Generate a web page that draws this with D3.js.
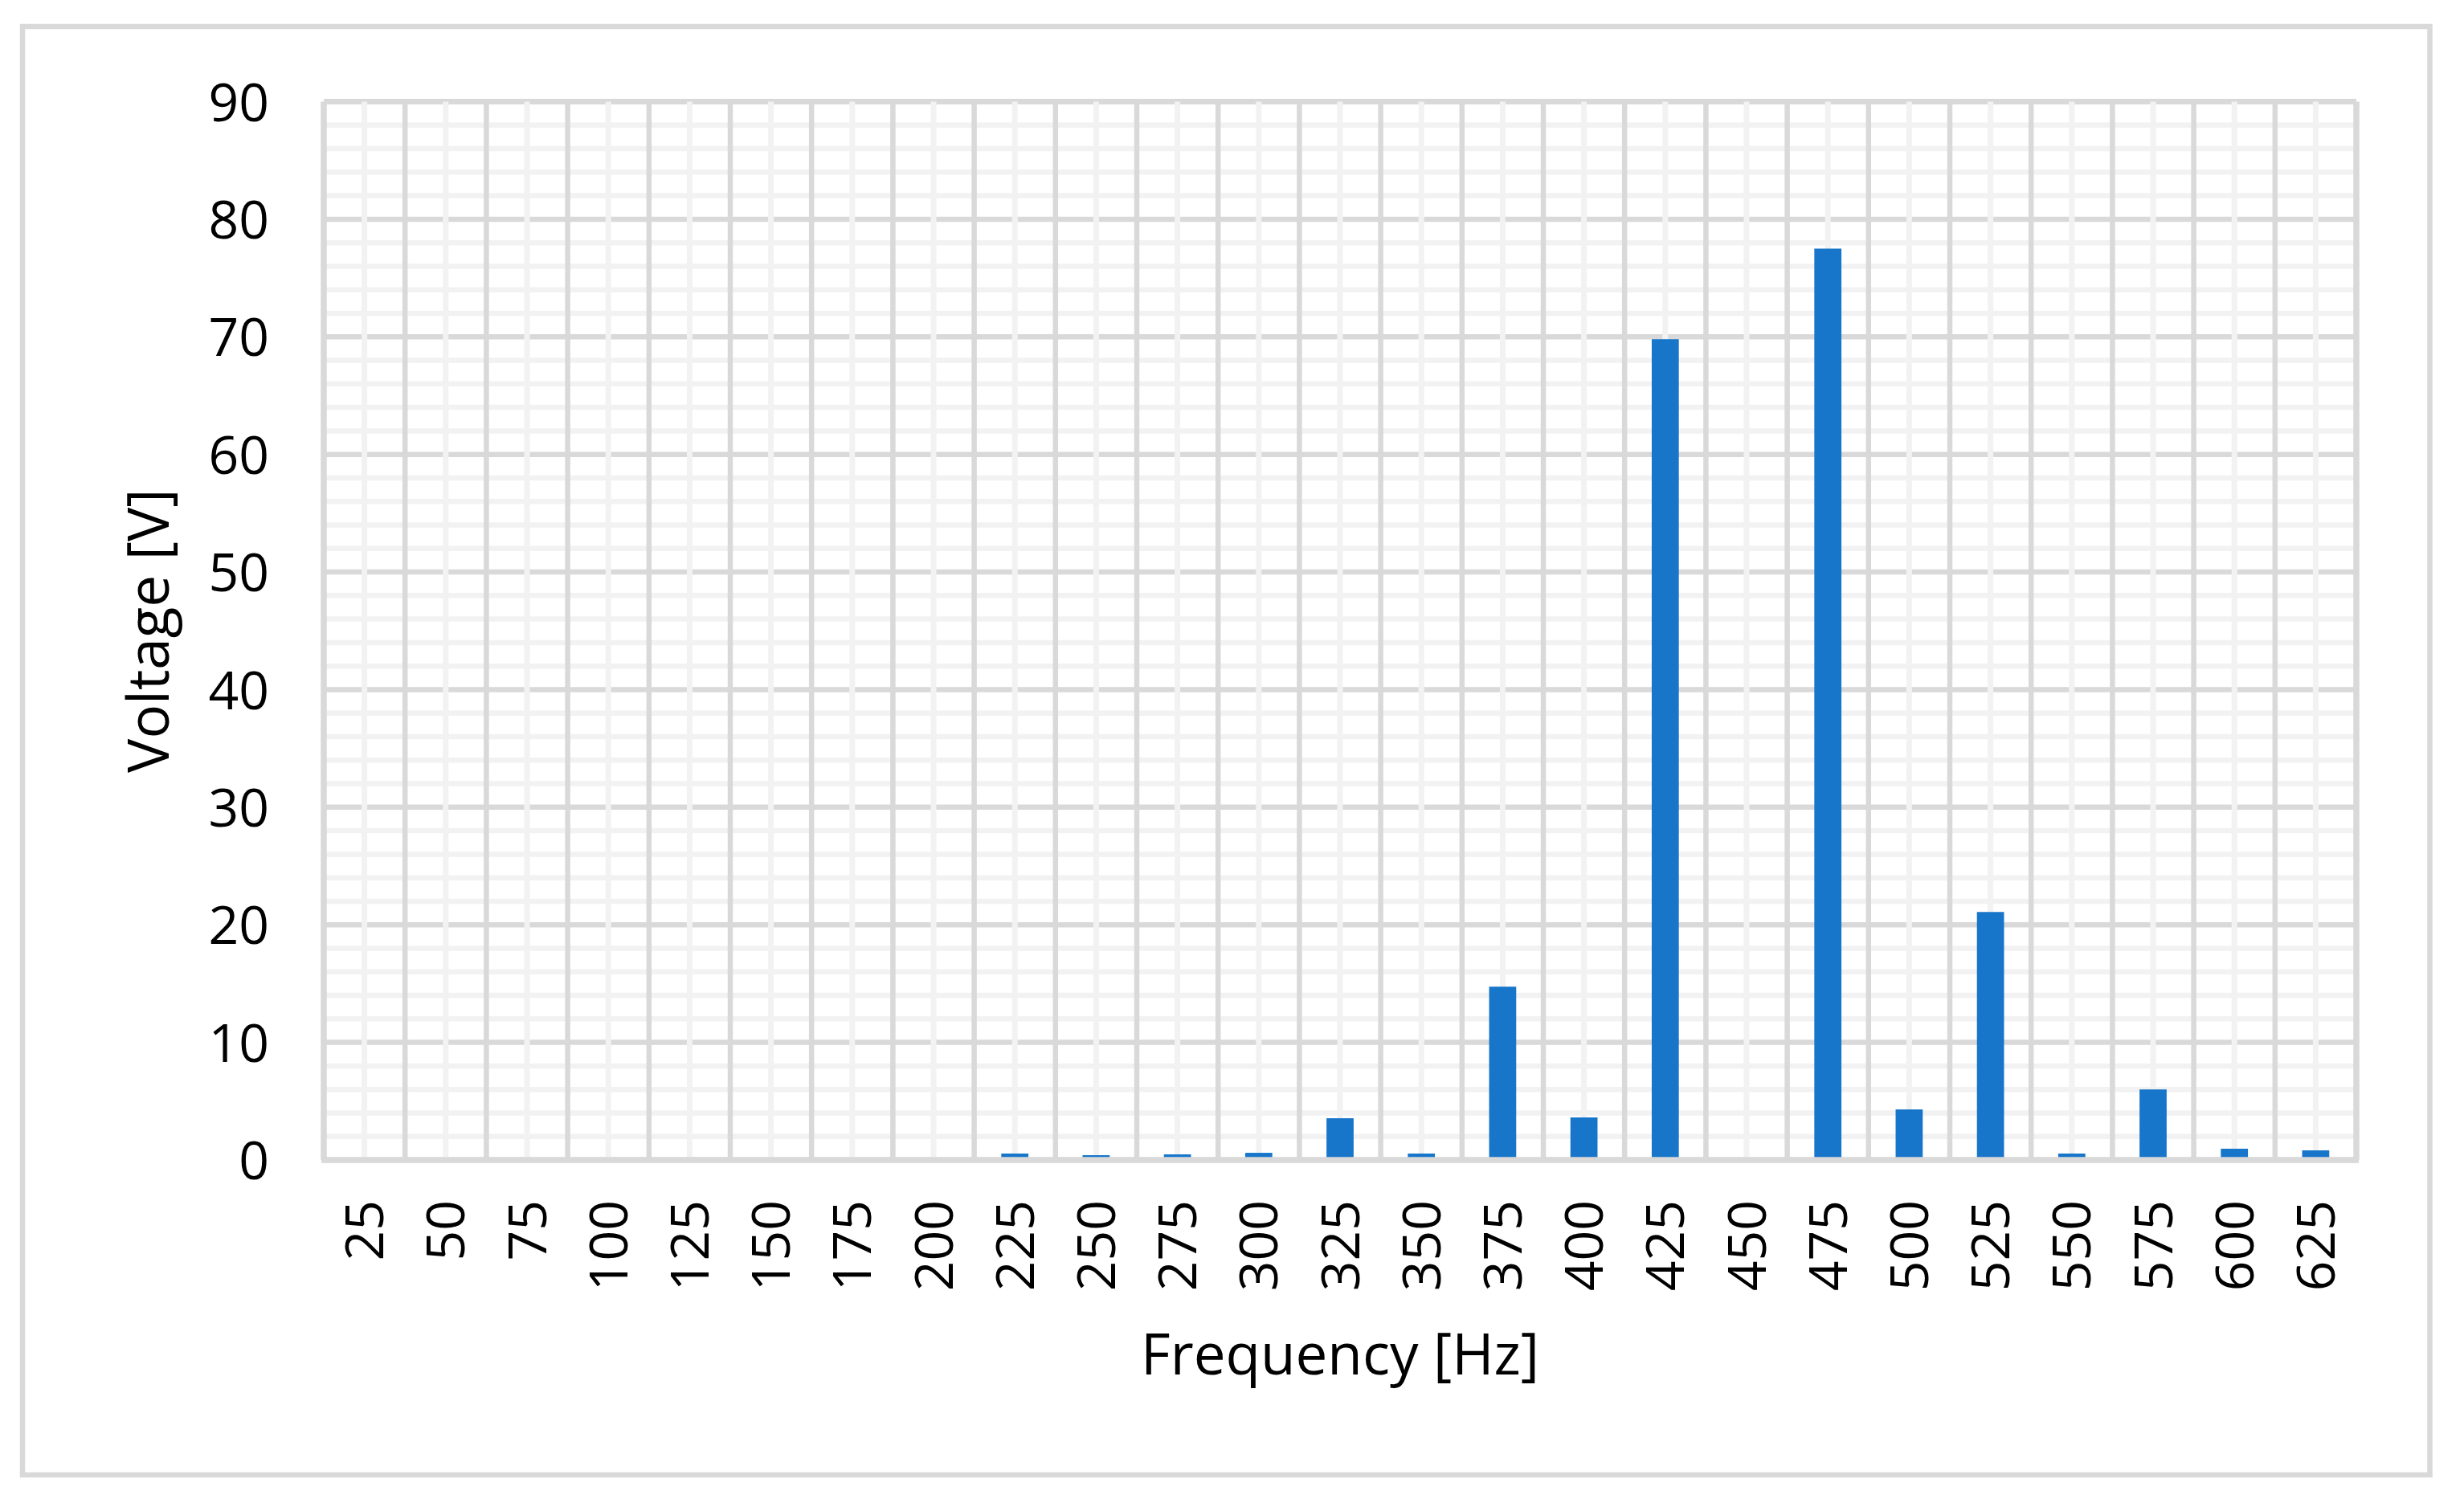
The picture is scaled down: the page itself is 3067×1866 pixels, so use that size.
<!DOCTYPE html>
<html>
<head>
<meta charset="utf-8">
<script src="https://cdn.jsdelivr.net/npm/d3@7"></script>
<style>
  body { margin: 0; background: #fff; }
  text { font-family: 'Open Sans', 'Noto Sans', sans-serif; fill: #000; }
</style>
</head>
<body>
<div id="chart"></div>
<script>
// data
let freqs = ['25', '50', '75', '100', '125', '150', '175', '200', '225', '250', '275', '300', '325',
  '350', '375', '400', '425', '450', '475', '500', '525', '550', '575', '600', '625']
let voltage = [0, 0, 0, 0, 0, 0, 0, 0, 0.55, 0.41, 0.48, 0.61, 3.55,
  0.55, 14.74, 3.62, 69.8, 0, 77.5, 4.3, 21.09, 0.55, 6.0, 0.96, 0.82]
let yTicks = [0, 10, 20, 30, 40, 50, 60, 70, 80, 90]
let yMinor = d3.range(0, 91, 2)

let W = 3067
let H = 1866
let plot = { left: 403, right: 2933, top: 126.5, bottom: 1444 }
let major = '#d9d9d9'
let minor = '#f2f2f2'

let svg = d3.select('#chart')
  .append('svg')
  .attr('width', W)
  .attr('height', H)

// outer chart frame
svg.append('rect')
  .attr('x', 28)
  .attr('y', 33)
  .attr('width', 2996.5)
  .attr('height', 1803)
  .attr('fill', '#fff')
  .attr('stroke', major)
  .attr('stroke-width', 6.5)

let y = d3.scaleLinear().domain([0, 90]).range([plot.bottom, plot.top])
let xCat = d3.scaleBand().domain(freqs).range([plot.left, plot.right])
let x = d3.scaleBand().domain(freqs).range([plot.left, plot.right])
  .paddingInner(2 / 3).paddingOuter(1 / 3)

let grid = svg.append('g')

// horizontal gridlines, minor then major
grid.selectAll('.hminor')
  .data(yMinor.filter((v) => v % 10 !== 0))
  .enter().append('line')
  .attr('x1', plot.left).attr('x2', plot.right)
  .attr('y1', (d) => y(d)).attr('y2', (d) => y(d))
  .attr('stroke', minor).attr('stroke-width', 6.5)

grid.selectAll('.hmajor')
  .data(yTicks)
  .enter().append('line')
  .attr('x1', plot.left).attr('x2', plot.right)
  .attr('y1', (d) => y(d)).attr('y2', (d) => y(d))
  .attr('stroke', major).attr('stroke-width', (d) => d === 90 ? 7 : 6.5)

// vertical gridlines: minor at category centres, major at boundaries
grid.selectAll('.vminor')
  .data(freqs)
  .enter().append('line')
  .attr('x1', (d) => xCat(d) + xCat.bandwidth() / 2)
  .attr('x2', (d) => xCat(d) + xCat.bandwidth() / 2)
  .attr('y1', plot.top).attr('y2', plot.bottom)
  .attr('stroke', minor).attr('stroke-width', 7)

let bounds = freqs.map((d) => xCat(d)).concat([plot.right])
grid.selectAll('.vmajor')
  .data(bounds)
  .enter().append('line')
  .attr('x1', (d) => d).attr('x2', (d) => d)
  .attr('y1', plot.top).attr('y2', plot.bottom)
  .attr('stroke', major)
  .attr('stroke-width', (d, i) => (i === 0 || i === bounds.length - 1) ? 7.5 : 6.5)

// bars
svg.append('g').selectAll('rect')
  .data(freqs.map((f, i) => ({ f: f, v: voltage[i] })).filter((d) => d.v > 0))
  .enter().append('rect')
  .attr('x', (d) => x(d.f))
  .attr('y', (d) => y(d.v))
  .attr('width', x.bandwidth())
  .attr('height', (d) => y(0) - y(d.v))
  .attr('fill', '#1775ca')

// category axis line
svg.append('line')
  .attr('x1', plot.left - 3).attr('x2', plot.right + 3)
  .attr('y1', y(0)).attr('y2', y(0))
  .attr('stroke', major).attr('stroke-width', 7.5)

// y axis labels
let yAxis = svg.append('g')
  .attr('transform', 'translate(' + plot.left + ',0)')
  .call(d3.axisLeft(y).tickValues(yTicks).tickSize(0).tickPadding(68))
yAxis.select('.domain').remove()
yAxis.selectAll('text')
  .attr('dy', '0.357em')
  .style('font-size', '66px')
  .style('font-family', "'Open Sans', sans-serif")
  .attr('fill', '#000')

// x axis labels, rotated
let xAxis = svg.append('g')
  .attr('transform', 'translate(0,' + y(0) + ')')
  .call(d3.axisBottom(xCat).tickSize(0))
xAxis.select('.domain').remove()
xAxis.selectAll('text')
  .attr('transform', 'rotate(-90)')
  .attr('text-anchor', 'end')
  .attr('x', -50)
  .attr('y', 0)
  .attr('dy', '0.357em')
  .style('font-size', '66px')
  .style('font-family', "'Open Sans', sans-serif")
  .attr('fill', '#000')

// axis titles
svg.append('text')
  .attr('x', (plot.left + plot.right) / 2)
  .attr('y', 1711)
  .attr('text-anchor', 'middle')
  .style('font-size', '71px')
  .text('Frequency [Hz]')

svg.append('text')
  .attr('transform', 'translate(210,' + (plot.top + plot.bottom) / 2 + ')rotate(-90)')
  .attr('text-anchor', 'middle')
  .style('font-size', '71px')
  .text('Voltage [V]')
</script>
</body>
</html>
